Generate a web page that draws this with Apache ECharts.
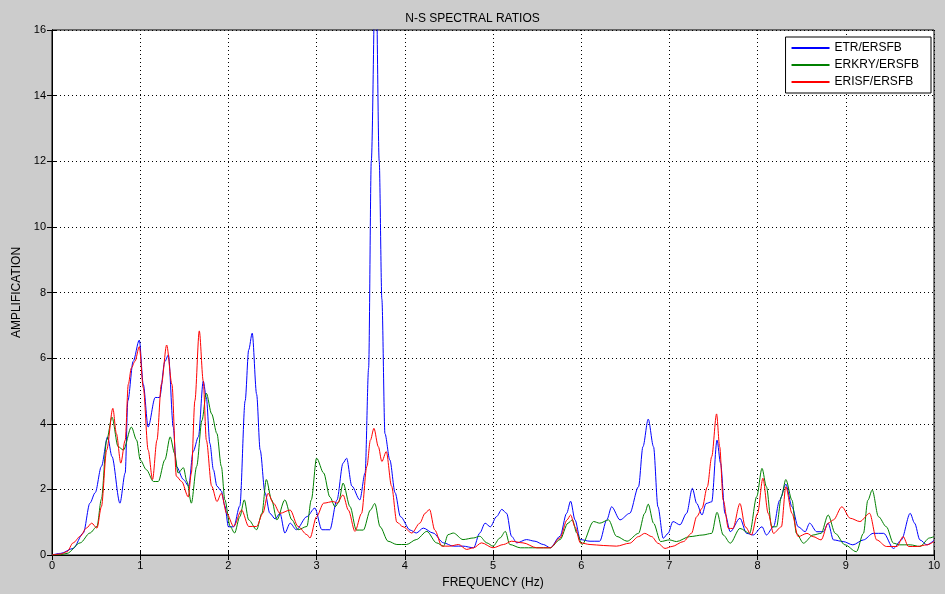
<!DOCTYPE html>
<html>
<head>
<meta charset="utf-8">
<script src="https://cdn.jsdelivr.net/npm/echarts@6/dist/echarts.min.js"></script>
<style>
html,body{margin:0;padding:0;background:#cccccc;}
#chart{width:945px;height:594px;}
</style>
</head>
<body>
<div id="chart"></div>
<script>
const seriesNames = ['ETR/ERSFB', 'ERKRY/ERSFB', 'ERISF/ERSFB'];
const xTicks = [0,1,2,3,4,5,6,7,8,9,10];
const yTicks = [0,2,4,6,8,10,12,14,16];

const etrFreq = [0,0.1,0.24,0.355,0.43,0.49,0.56,0.63,0.68,0.77,0.83,0.86,0.92,0.99,1.035,1.09,1.17,1.22,1.28,1.32,1.375,1.41,1.49,1.55,1.6,1.66,1.715,1.75,1.79,1.83,1.87,1.92,1.96,2.0,2.06,2.13,2.19,2.23,2.27,2.32,2.36,2.415,2.47,2.53,2.585,2.64,2.7,2.77,2.89,2.98,3.06,3.15,3.23,3.30,3.34,3.40,3.49,3.55,3.59,3.62,3.67,3.71,3.74,3.775,3.83,3.89,3.95,4.06,4.13,4.21,4.32,4.44,4.55,4.66,4.78,4.85,4.91,4.97,5.04,5.10,5.155,5.21,5.27,5.38,5.475,5.57,5.65,5.76,5.835,5.88,5.93,5.99,6.10,6.21,6.29,6.345,6.44,6.55,6.65,6.70,6.76,6.82,6.87,6.93,6.985,7.04,7.12,7.195,7.26,7.31,7.37,7.415,7.48,7.54,7.58,7.63,7.69,7.80,7.875,7.95,8.05,8.10,8.18,8.25,8.32,8.39,8.46,8.54,8.59,8.67,8.745,8.80,8.86,8.97,9.08,9.20,9.31,9.43,9.54,9.63,9.73,9.78,9.84,9.92,10.0];
const etrAmp = [0,0.05,0.2,0.67,1.58,1.9,2.7,3.6,3.0,1.58,2.5,4.7,5.9,6.55,5.2,3.9,4.8,4.8,5.9,6.1,3.9,2.7,2.3,2.1,3.15,3.6,5.3,4.8,3.4,2.6,2.1,1.95,1.5,0.86,0.86,1.5,4.7,6.25,6.76,4.9,3.2,1.9,1.27,1.1,1.27,0.67,0.97,0.77,1.17,1.43,0.77,0.77,1.67,2.8,2.95,2.1,1.68,2.5,5.7,12.0,18.5,12.0,7.8,3.7,2.9,1.9,1.17,0.76,0.67,0.82,0.67,0.37,0.27,0.27,0.22,0.67,0.97,0.86,1.17,1.39,1.27,0.57,0.37,0.47,0.42,0.32,0.22,0.57,1.27,1.64,1.07,0.47,0.42,0.42,1.07,1.47,1.07,1.27,2.08,3.3,4.14,3.3,1.47,0.51,0.66,1.02,0.92,1.27,2.03,1.57,1.22,1.57,1.62,3.5,2.8,1.27,0.71,1.12,0.66,0.61,0.86,0.61,0.86,1.67,2.16,1.47,0.86,0.71,0.97,0.71,0.71,0.97,0.46,0.41,0.31,0.46,0.66,0.66,0.2,0.46,1.27,0.97,0.46,0.31,0.45];

const erkryFreq = [0,0.1,0.17,0.32,0.43,0.51,0.56,0.62,0.68,0.75,0.81,0.90,0.96,1.0,1.07,1.15,1.205,1.28,1.34,1.39,1.43,1.49,1.53,1.58,1.64,1.70,1.75,1.81,1.87,1.92,1.96,2.02,2.07,2.13,2.18,2.23,2.32,2.38,2.43,2.49,2.55,2.64,2.72,2.79,2.89,2.94,3.0,3.08,3.15,3.21,3.25,3.30,3.38,3.45,3.53,3.61,3.66,3.72,3.81,3.91,4.02,4.13,4.25,4.36,4.44,4.49,4.55,4.66,4.78,4.85,4.93,5.0,5.08,5.14,5.19,5.31,5.495,5.65,5.76,5.85,5.90,5.95,6.01,6.14,6.21,6.31,6.40,6.52,6.65,6.72,6.76,6.82,6.90,7.0,7.08,7.23,7.38,7.48,7.54,7.61,7.69,7.80,7.91,7.99,8.05,8.10,8.16,8.215,8.27,8.32,8.39,8.44,8.52,8.63,8.72,8.80,8.88,8.99,9.12,9.20,9.25,9.30,9.37,9.46,9.54,9.61,9.73,9.84,9.95,10.0];
const erkryAmp = [0,0.01,0.05,0.37,0.67,0.87,1.7,3.5,4.2,3.3,3.2,3.9,3.5,2.9,2.6,2.24,2.24,2.9,3.6,3.1,2.5,2.66,2.24,1.58,2.7,4.1,4.93,4.3,3.7,2.7,1.68,0.87,0.67,1.17,1.68,1.07,0.77,1.27,2.3,1.68,1.07,1.68,1.07,0.77,0.87,1.68,2.95,2.5,1.77,1.47,1.6,2.19,1.47,0.76,0.76,1.37,1.57,0.86,0.42,0.32,0.32,0.47,0.72,0.37,0.27,0.62,0.67,0.47,0.52,0.57,0.37,0.27,0.52,0.72,0.32,0.22,0.22,0.22,0.47,0.97,1.07,0.67,0.32,1.02,0.97,1.07,0.57,0.42,0.66,1.27,1.55,0.97,0.41,0.46,0.41,0.56,0.61,0.66,1.3,0.61,0.36,0.81,0.66,1.78,2.64,2.08,0.86,0.86,1.78,2.3,1.67,0.66,0.36,0.61,0.66,1.22,0.66,0.31,0.1,0.66,1.67,1.98,1.17,0.86,0.36,0.31,0.31,0.26,0.52,0.56];

const erisfFreq = [0,0.1,0.17,0.24,0.32,0.39,0.45,0.51,0.56,0.62,0.69,0.73,0.78,0.83,0.865,0.90,0.94,0.99,1.035,1.09,1.14,1.19,1.24,1.30,1.36,1.41,1.47,1.545,1.58,1.62,1.67,1.715,1.75,1.81,1.87,1.92,1.98,2.06,2.15,2.23,2.32,2.39,2.45,2.51,2.585,2.70,2.79,2.89,2.925,3.0,3.08,3.19,3.23,3.30,3.36,3.435,3.51,3.57,3.61,3.65,3.70,3.74,3.79,3.85,3.91,3.98,4.08,4.17,4.23,4.28,4.34,4.42,4.51,4.61,4.70,4.78,4.87,5.0,5.12,5.21,5.34,5.495,5.65,5.76,5.84,5.88,5.93,5.99,6.10,6.25,6.40,6.55,6.65,6.72,6.80,6.87,6.95,7.03,7.16,7.25,7.31,7.37,7.43,7.48,7.535,7.57,7.61,7.67,7.72,7.80,7.86,7.93,8.0,8.06,8.12,8.18,8.27,8.32,8.39,8.46,8.56,8.63,8.72,8.80,8.86,8.955,9.05,9.16,9.27,9.35,9.46,9.58,9.65,9.71,9.81,9.92,10.0];
const erisfAmp = [0,0.03,0.1,0.37,0.57,0.82,0.97,0.82,1.47,3.2,4.47,3.7,2.8,3.5,5.2,5.7,5.9,6.35,5.1,3.2,2.3,3.5,5.2,6.4,5.2,2.4,2.24,1.77,2.5,4.7,6.83,5.3,3.5,2.1,1.63,1.88,1.27,0.87,1.37,0.87,0.87,1.27,1.88,1.58,1.27,1.37,0.87,0.62,0.52,1.17,1.58,1.63,1.58,1.83,1.37,0.72,1.27,2.7,3.5,3.86,3.3,2.85,3.15,2.1,1.0,0.86,0.67,0.97,1.27,1.39,0.76,0.27,0.27,0.32,0.17,0.22,0.37,0.22,0.32,0.42,0.37,0.22,0.22,0.52,1.07,1.22,0.86,0.37,0.32,0.29,0.27,0.36,0.56,0.66,0.56,0.36,0.2,0.26,0.41,0.66,1.17,1.42,2.08,3.0,4.3,3.3,1.67,0.81,0.81,1.57,0.86,0.61,1.27,2.34,1.27,0.66,0.86,2.08,1.27,0.56,0.66,0.56,0.46,0.97,1.07,1.47,1.12,1.02,1.27,0.46,0.26,0.26,0.56,0.26,0.26,0.31,0.41];

const zip = (xs, ys) => xs.map((x, i) => [x, ys[i]]);
const FONT = 'Liberation Sans, Arial, sans-serif';

const chart = echarts.init(document.getElementById('chart'), null, {renderer: 'canvas'});
const gridLine = {show: true, lineStyle: {color: '#000', type: [1, 3], width: 1}};
chart.setOption({
  backgroundColor: '#cccccc',
  animation: false,
  title: {
    text: 'N-S SPECTRAL RATIOS', left: 'center', top: 8,
    textStyle: {fontFamily: FONT, fontSize: 12, fontWeight: 'normal', color: '#000'}
  },
  grid: {left: 52, right: 11, top: 30, bottom: 39, show: true, backgroundColor: '#fff', borderColor: '#000', borderWidth: 1},
  legend: {
    data: seriesNames.map(n => ({name: n, icon: 'rect'})),
    orient: 'vertical', right: 14, top: 37,
    backgroundColor: '#fff', borderColor: '#000', borderWidth: 1,
    padding: [4, 12, 4, 6], itemGap: 3, itemWidth: 38, itemHeight: 2,
    textStyle: {fontFamily: FONT, fontSize: 12, color: '#000', lineHeight: 14}
  },
  xAxis: [{
    type: 'value', min: 0, max: 10, interval: 1,
    name: 'FREQUENCY (Hz)', nameLocation: 'middle', nameGap: 22,
    nameTextStyle: {fontFamily: FONT, fontSize: 12, color: '#000'},
    axisLine: {show: true, lineStyle: {color: '#000'}},
    axisTick: {show: true, inside: true, length: 5, lineStyle: {color: '#000'}},
    axisLabel: {fontFamily: FONT, fontSize: 11, color: '#000', margin: 5},
    splitLine: gridLine
  }, {
    type: 'value', min: 0, max: 10, interval: 1, position: 'top',
    axisLine: {show: true, lineStyle: {color: '#000'}},
    axisTick: {show: true, inside: true, length: 5, lineStyle: {color: '#000'}},
    axisLabel: {show: false}, splitLine: {show: false}
  }],
  yAxis: [{
    type: 'value', min: 0, max: 16, interval: 2,
    name: 'AMPLIFICATION', nameLocation: 'middle', nameGap: 28, nameRotate: 90,
    nameTextStyle: {fontFamily: FONT, fontSize: 12, color: '#000'},
    axisLine: {show: true, lineStyle: {color: '#000'}},
    axisTick: {show: true, inside: true, length: 5, lineStyle: {color: '#000'}},
    axisLabel: {fontFamily: FONT, fontSize: 11, color: '#000', margin: 6},
    splitLine: gridLine
  }, {
    type: 'value', min: 0, max: 16, interval: 2, position: 'right',
    axisLine: {show: true, lineStyle: {color: '#000'}},
    axisTick: {show: true, inside: true, length: 5, lineStyle: {color: '#000'}},
    axisLabel: {show: false}, splitLine: {show: false}
  }],
  series: [
    {name: seriesNames[0], type: 'line', data: zip(etrFreq, etrAmp), color: '#0000ff'},
    {name: seriesNames[1], type: 'line', data: zip(erkryFreq, erkryAmp), color: '#008000'},
    {name: seriesNames[2], type: 'line', data: zip(erisfFreq, erisfAmp), color: '#ff0000'}
  ].map(s => Object.assign(s, {
    symbol: 'none', showSymbol: false, smooth: 0.3, smoothMonotone: 'x', clip: true,
    lineStyle: {width: 1, color: s.color}, itemStyle: {color: s.color}
  }))
});
</script>
</body>
</html>
